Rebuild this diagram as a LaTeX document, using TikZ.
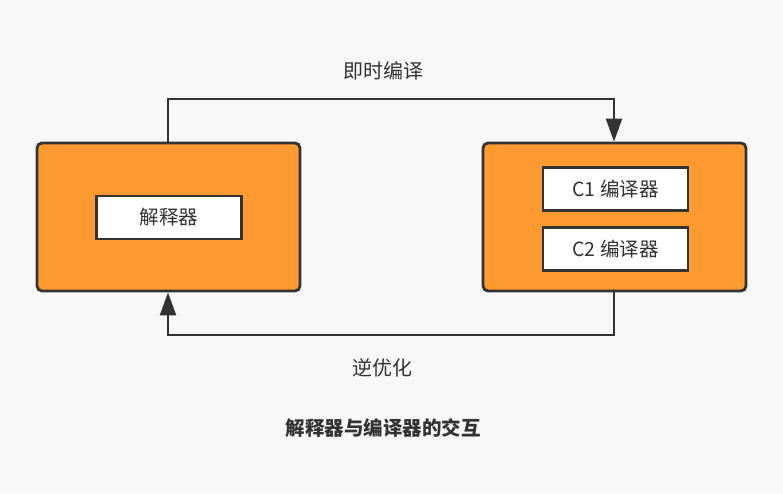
\documentclass[tikz,border=0pt]{standalone}
\usepackage{fontspec}
\newfontfamily\cjk{Noto Sans CJK SC}
\usetikzlibrary{arrows.meta}
\definecolor{bg}{HTML}{F8F8F8}
\definecolor{org}{HTML}{FE9A2F}
\definecolor{ink}{HTML}{333333}
\tikzset{
  outerbox/.style={draw=ink, fill=org, line width=2.8pt, rounded corners=5pt, minimum width=263pt, minimum height=148pt, inner sep=0pt},
  innerbox/.style={draw=ink, fill=white, line width=2.6pt, minimum width=145pt, minimum height=43pt, inner sep=0pt, font=\cjk\fontsize{19.5}{19.5}\selectfont, text=ink},
  lbl/.style={font=\cjk\fontsize{20}{20}\selectfont, text=ink},
  conn/.style={draw=ink, line width=2.4pt, -{Triangle[length=23pt,width=16pt]}}
}
\begin{document}
\begin{tikzpicture}[x=1pt,y=-1pt]
\fill[bg] (0,0) rectangle (783,493);
\useasboundingbox (0,0) rectangle (783,493);
\node[outerbox] (L) at (168.5,217) {};
\node[outerbox] (R) at (614.5,217) {};
\node[innerbox] (I) at (169,217.5) {解释器};
\node[innerbox] (C1) at (615.5,189) {C1 编译器};
\node[innerbox] (C2) at (615.5,249) {C2 编译器};
\coordinate (t1) at (168,99);
\coordinate (t2) at (614,99);
\coordinate (b1) at (614,335);
\coordinate (b2) at (168,335);
\draw[conn] (L.north -| t1) -- (t1) -- (t2) -- (R.north -| t2);
\draw[conn] (R.south -| b1) -- (b1) -- (b2) -- (L.south -| b2);
\node[lbl] (jit) at (383,71) {即时编译};
\node[lbl] (deopt) at (382,368) {逆优化};
\node[font=\cjk\bfseries\fontsize{19.5}{19.5}\selectfont, text=ink] (cap) at (383,428) {解释器与编译器的交互};
\end{tikzpicture}
\end{document}
